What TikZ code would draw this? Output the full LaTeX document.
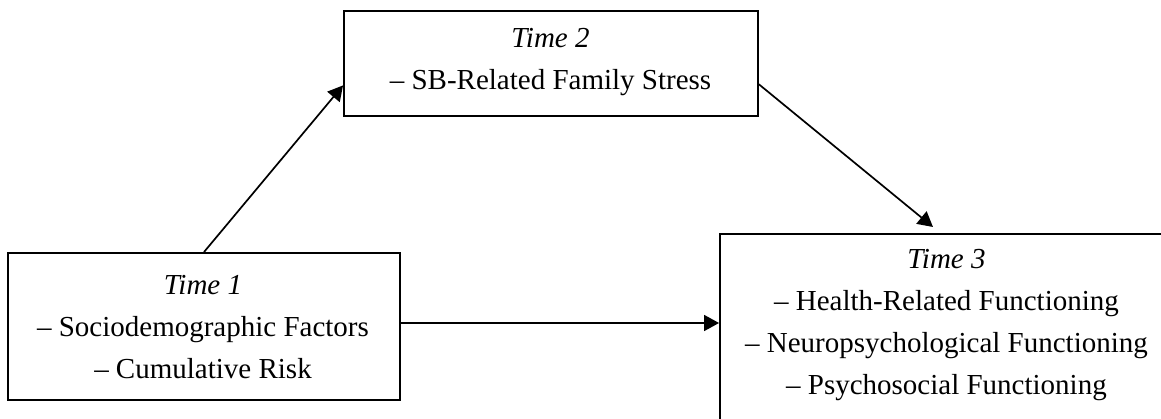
\documentclass[tikz,border=0pt]{standalone}
\usepackage{fontspec}
\setmainfont{Liberation Serif}
\usetikzlibrary{arrows.meta,calc}
\begin{document}
\begin{tikzpicture}[x=1pt,y=-1pt,
  box/.style={draw=black,line width=1.9pt,rectangle,inner sep=0pt},
  txt/.style={align=center,inner sep=0pt,font=\fontsize{29}{42}\selectfont},
  conn/.style={line width=1.7pt,-{Triangle[length=15pt,width=16pt]}}]
\clip (0,0) rectangle (1161,419);
\fill[white] (0,0) rectangle (1161,419);
% boxes
\node[box,minimum width=414pt,minimum height=105pt] (t2) at (551,63.5) {};
\node[box,minimum width=392pt,minimum height=147pt] (t1) at (204,326.5) {};
\node[box,minimum width=453pt,minimum height=200pt] (t3) at (946.5,334) {};
% texts
\node[txt] (t2txt) at (550.5,62.5) {\textit{Time 2}\\– SB-Related Family Stress};
\node[txt] (t1txt) at (203,327) {\textit{Time 1}\\– Sociodemographic Factors\\– Cumulative Risk};
\node[txt] (t3txt) at (946.5,325.5) {\textit{Time 3}\\– Health-Related Functioning\\– Neuropsychological Functioning\\– Psychosocial Functioning};
% connectors
\coordinate (t3in) at (933,227);
\draw[conn] (t1.north) -- ($(t2.north west)!0.705!(t2.south west)$);
\draw[conn] ($(t2.north east)!0.695!(t2.south east)$) -- (t3in);
\draw[conn] ($(t1.east)+(0,-3.5)$) -- ($(t1.east -| t3.west)+(0,-3.5)$);
\end{tikzpicture}
\end{document}
